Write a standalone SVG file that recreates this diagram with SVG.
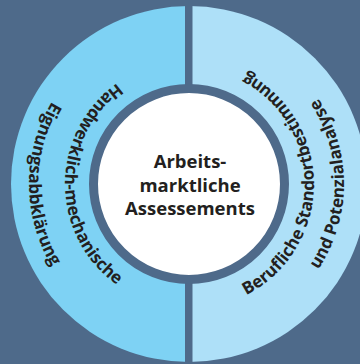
<svg xmlns="http://www.w3.org/2000/svg" width="360" height="364" viewBox="0 0 360 364">
  <defs>
    <style>
      .bg { fill: #4e6a8a; }
      .lbl { font-family: "Open Sans", "Liberation Sans", sans-serif; font-weight: 700; fill: #231f20; }
      .arc { font-size: 17px; }
      .ctr { font-size: 18.5px; text-anchor: middle; }
    </style>
    <path id="pLeftIn" d="M 189,60 A 124 124 0 0 0 189,308"/>
    <path id="pLeftOut" d="M 189,24 A 160 160 0 0 0 189,344"/>
    <path id="pRightIn" d="M 189,309 A 125 125 0 0 0 189,59"/>
    <path id="pRightOut" d="M 189,339 A 155 155 0 0 0 189,29"/>
  </defs>
  <rect class="bg" x="0" y="0" width="360" height="364"/>
  <g id="left-segment">
    <path d="M 189,6 A 178 178 0 0 0 189,362 Z" fill="#7ed2f4"/>
    <text class="lbl arc"><textPath href="#pLeftIn" startOffset="50%" text-anchor="middle">Handwerklich-mechanische</textPath></text>
    <text class="lbl arc"><textPath href="#pLeftOut" startOffset="50%" text-anchor="middle">Eignungsabbklärung</textPath></text>
  </g>
  <g id="right-segment">
    <path d="M 189,6 A 178 178 0 0 1 189,362 Z" fill="#aee0f8"/>
    <text class="lbl arc"><textPath href="#pRightIn" startOffset="50%" text-anchor="middle">Berufliche Standortbestimmung</textPath></text>
    <text class="lbl arc"><textPath href="#pRightOut" startOffset="50%" text-anchor="middle">und Potenzialanalyse</textPath></text>
  </g>
  <g id="connectors">
    <rect class="bg" x="185" y="0" width="7.5" height="364"/>
  </g>
  <g id="center">
    <circle cx="189" cy="184" r="95.5" fill="#ffffff" stroke="#4e6a8a" stroke-width="9"/>
    <text class="lbl ctr" x="190" y="168">Arbeits-</text>
    <text class="lbl ctr" x="190" y="191.5">marktliche</text>
    <text class="lbl ctr" x="190" y="215">Assessements</text>
  </g>
</svg>
